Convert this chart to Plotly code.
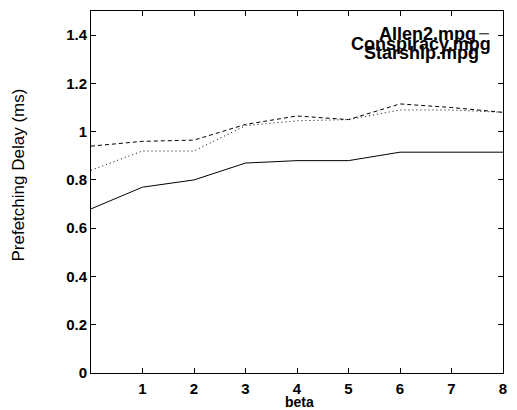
import plotly.graph_objects as go

beta = [0, 1, 2, 3, 4, 5, 6, 7, 8]
allen2 = [0.68, 0.77, 0.80, 0.87, 0.88, 0.88, 0.915, 0.915, 0.915]
conspiracy = [0.94, 0.96, 0.965, 1.03, 1.065, 1.05, 1.115, 1.10, 1.08]
starship = [0.84, 0.92, 0.92, 1.025, 1.045, 1.05, 1.09, 1.09, 1.08]
series_names = ["Allen2.mpg", "Conspiracy.mpg", "Starship.mpg"]
x_ticks = [1, 2, 3, 4, 5, 6, 7, 8]
y_ticks = [0, 0.2, 0.4, 0.6, 0.8, 1.0, 1.2, 1.4]
y_tick_labels = ["0", "0.2", "0.4", "0.6", "0.8", "1", "1.2", "1.4"]

FONT = "Liberation Sans, Arial, sans-serif"

fig = go.Figure()
for vals, name, dash in zip([allen2, conspiracy, starship], series_names,
                            ["solid", "4px,3px", "1px,3px"]):
    fig.add_trace(go.Scatter(x=beta, y=vals, mode="lines", name=name,
                             line=dict(color="black", width=1, dash=dash)))

axis_common = dict(showline=True, linecolor="black", linewidth=1, mirror="ticks",
                   ticks="inside", ticklen=5, tickcolor="black", showgrid=False,
                   zeroline=False,
                   tickfont=dict(family=FONT, size=15, color="black", weight="bold"))

fig.update_xaxes(range=[0, 8], tickvals=x_ticks, ticklabelstandoff=2, **axis_common)
fig.update_yaxes(range=[0, 1.5], tickvals=y_ticks, ticktext=y_tick_labels, **axis_common)

annotations = [
    dict(text="beta", x=0.505, y=-0.081, xref="paper", yref="paper",
         showarrow=False, xanchor="center", yanchor="middle",
         font=dict(family=FONT, size=14, color="black", weight="bold")),
    dict(text="Prefetching Delay (ms)", x=-0.175, y=0.548, xref="paper", yref="paper",
         showarrow=False, xanchor="center", yanchor="middle", textangle=-90,
         font=dict(family=FONT, size=17, color="black")),
]
leg_pos = [(0.940, 0.937), (0.976, 0.909), (0.947, 0.884)]
for name, (lx, ly) in zip(series_names, leg_pos):
    annotations.append(dict(text=name, x=lx, y=ly, xref="paper", yref="paper",
                            showarrow=False, xanchor="right", yanchor="middle",
                            font=dict(family=FONT, size=18, color="black", weight="bold")))

fig.update_layout(
    width=517, height=410,
    margin=dict(l=91, r=10, t=10, b=37),
    plot_bgcolor="white", paper_bgcolor="white",
    showlegend=False,
    annotations=annotations,
)
# legend line samples
fig.add_shape(type="line", xref="paper", yref="paper", x0=0.942, x1=0.966, y0=0.937, y1=0.937,
              line=dict(color="black", width=1))
fig.add_shape(type="line", xref="paper", yref="paper", x0=0.949, x1=0.956, y0=0.884, y1=0.884,
              line=dict(color="black", width=1, dash="1px,3px"))

fig.write_html("out.html", config={"displayModeBar": False},
               post_script="document.body.style.margin='0';document.body.style.overflow='hidden';")
